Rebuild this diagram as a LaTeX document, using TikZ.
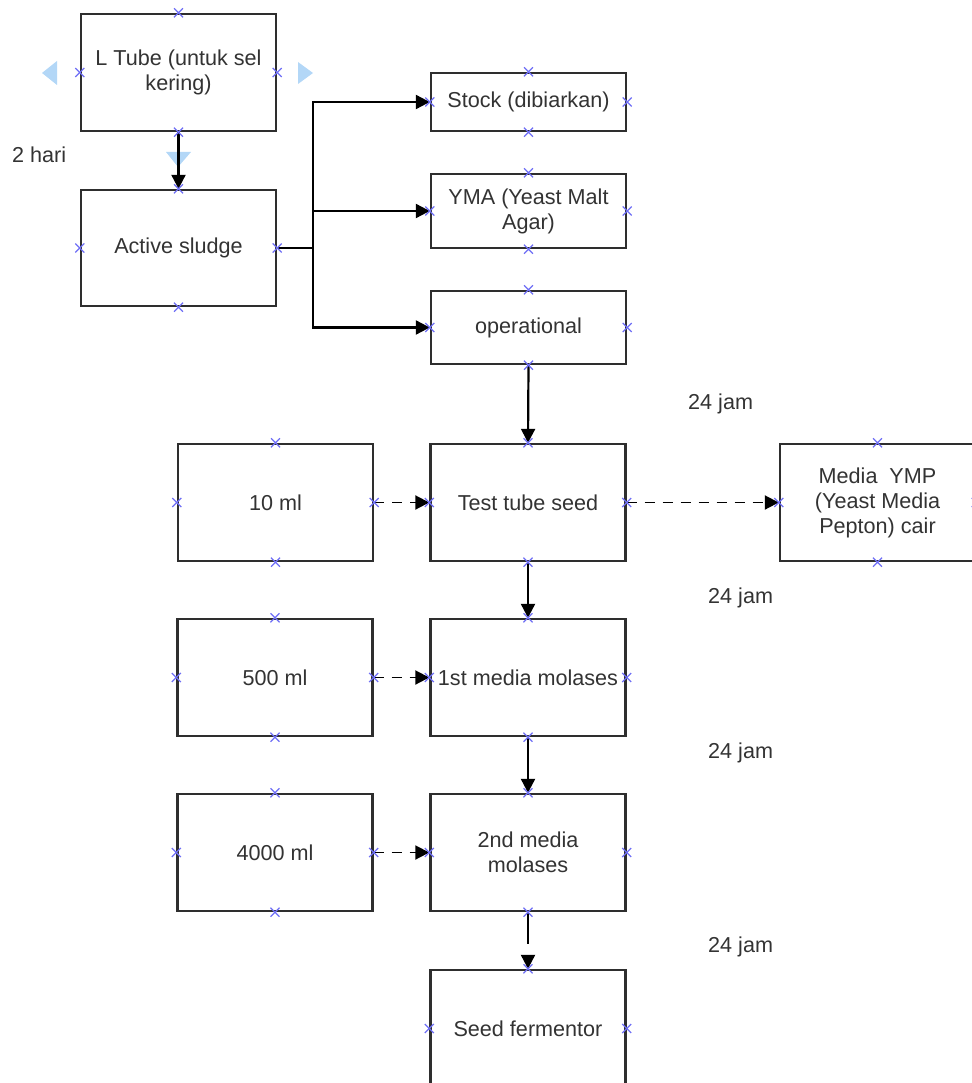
\documentclass[tikz,border=0pt]{standalone}
\usepackage{fontspec}
\setmainfont{Liberation Sans}
\usetikzlibrary{arrows.meta}
\definecolor{boxline}{HTML}{2E2E2E}
\definecolor{txt}{HTML}{333333}
\definecolor{xblue}{HTML}{6F6FF5}
\definecolor{triblue}{HTML}{B3D7F7}
\tikzset{
  box/.style={draw=boxline, line width=2.4pt, fill=white, minimum width=195pt, inner sep=0pt,
    align=center, text=txt, font=\fontsize{21.6}{25}\selectfont},
  lbl/.style={text=txt, font=\fontsize{21.6}{25}\selectfont, inner sep=0pt},
  conn/.style={draw=black, line width=2.2pt, -{Triangle[length=14pt,width=14pt]}},
  dconn/.style={conn, line width=1.9pt, dash pattern=on 10pt off 8pt},
  xmk/.style={draw=xblue, line width=1.3pt},
  tri/.style={fill=triblue}
}
\begin{document}
\begin{tikzpicture}[x=1pt,y=-1pt]
\useasboundingbox (0,0) rectangle (971,1083);
% boxes
\node[box, minimum height=117pt] (ltube) at (178.5,72.5) {L Tube (untuk sel\\kering)};
\node[box, minimum height=116pt] (sludge) at (178.5,248) {Active sludge};
\node[box, minimum height=58pt] (stock) at (528.5,102) {Stock (dibiarkan)};
\node[box, minimum height=74pt] (yma) at (528.5,211) {YMA (Yeast Malt\\Agar)};
\node[box, minimum height=73pt] (oper) at (528.5,327.5) {operational};
\node[box, minimum height=117pt] (tts) at (528,502.5) {Test tube seed};
\node[box, minimum height=117pt] (ml10) at (275.5,502.5) {10 ml};
\node[box, minimum height=117pt] (ymp) at (877.5,502.5) {Media~ YMP\\(Yeast Media\\Pepton) cair};
\node[box, minimum height=117pt] (m1) at (528,677.5) {1st media molases};
\node[box, minimum height=117pt] (ml500) at (275,677.5) {500 ml};
\node[box, minimum height=117pt] (m2) at (528,852.5) {2nd media\\molases};
\node[box, minimum height=117pt] (ml4000) at (275,852.5) {4000 ml};
\node[box, minimum height=117pt] (seed) at (528,1028.5) {Seed fermentor};
% labels
\node[lbl, anchor=west] (hari) at (12,155) {2 hari};
\node[lbl, anchor=west] (j1) at (688,404) {24 jam};
\node[lbl, anchor=west] (j2) at (708,598) {24 jam};
\node[lbl, anchor=west] (j3) at (708,753) {24 jam};
\node[lbl, anchor=west] (j4) at (708,947) {24 jam};
% light blue triangles
\fill[tri] (42,73) -- (57,61) -- (57,85) -- cycle;
\fill[tri] (313,73) -- (298,62) -- (298,84) -- cycle;
\fill[tri] (178,167) -- (166,152) -- (191,152) -- cycle;
% connectors
\coordinate (bus) at (313,248);
\draw[conn] (ltube.south) -- (sludge.north);
\draw[line width=2.2pt] (sludge.east) -- (bus);
\draw[conn] (bus) |- (stock.west);
\draw[conn] (bus) |- (yma.west);
\draw[conn] (bus) |- (oper.west);
\draw[conn] (oper.south) -- (tts.north);
\draw[dconn] (ml10.east) -- (tts.west);
\draw[dconn] (tts.east) -- (ymp.west);
\draw[conn] (tts.south) -- (m1.north);
\draw[dconn] (ml500.east) -- (m1.west);
\draw[conn] (m1.south) -- (m2.north);
\draw[dconn] (ml4000.east) -- (m2.west);
\draw[conn, dash pattern=on 32pt off 40pt] (m2.south) -- (seed.north);
% connection point marks
\foreach \n in {ltube,sludge,stock,yma,oper,tts,ml10,ymp,m1,ml500,m2,ml4000,seed}{
  \foreach \a in {north,south,east,west}{
    \draw[xmk] (\n.\a) ++(-4.5,-4.5) -- ++(9,9) ++(-9,0) -- ++(9,-9);
  }
}
\end{tikzpicture}
\end{document}
